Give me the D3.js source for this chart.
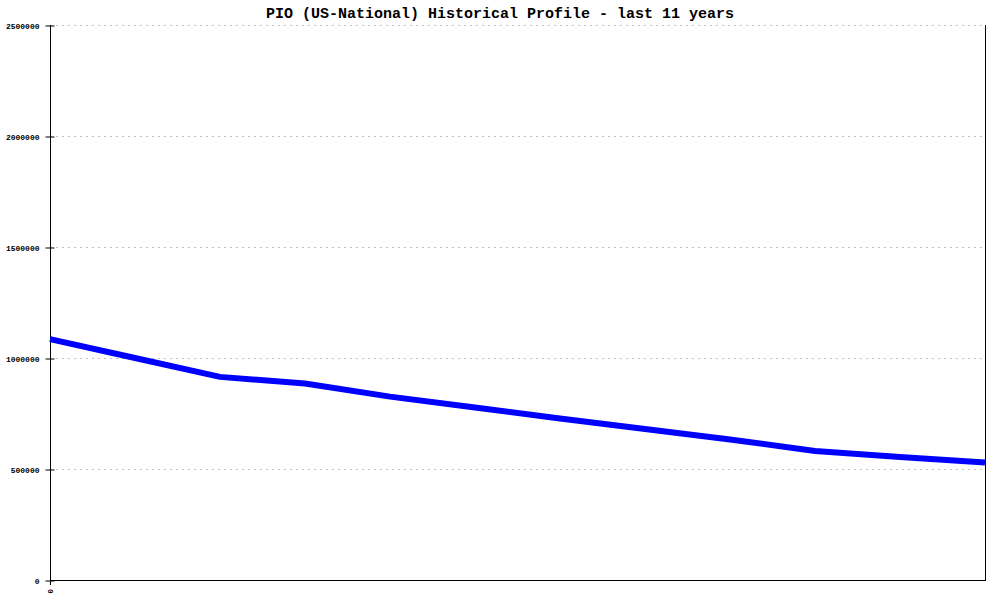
<!DOCTYPE html>
<html><head><meta charset="utf-8">
<script src="https://cdn.jsdelivr.net/npm/d3@7"></script>
<style>body{margin:0;background:#fff}</style>
</head><body>
<svg id="c" width="1000" height="600"></svg>
<script>
const title = "PIO (US-National) Historical Profile - last 11 years";
const years = [0,1,2,3,4,5,6,7,8,9,10,11];
const values = [1085000,1000000,915000,885000,826000,777000,727500,680000,633000,581000,554000,529000];
const yTicks = [0,500000,1000000,1500000,2000000,2500000];
const xTickLabels = ["0"];

const svg = d3.select("#c");
const L=50,R=985,T=25,B=580;
const x = d3.scaleLinear().domain([0,11]).range([L,R]);
const y = d3.scaleLinear().domain([0,2500000]).range([B,T]);
const mono = "'Liberation Mono','Courier New',monospace";

svg.append("text").attr("x",500).attr("y",18).attr("text-anchor","middle")
  .attr("font-family",mono).attr("font-weight","bold").attr("font-size",15).text(title);

// gridlines
svg.append("g").selectAll("line").data(yTicks.filter(d=>d>0)).join("line")
  .attr("x1",L).attr("x2",R).attr("y1",d=>y(d)+0.5).attr("y2",d=>y(d)+0.5)
  .attr("stroke","#c0c0c0").attr("stroke-dasharray","2,4");

// y axis
const ya = d3.axisLeft(y).tickValues(yTicks).tickSize(5).tickPadding(6).tickFormat(d3.format("d"));
const gy = svg.append("g").attr("transform",`translate(${L+0.5},0.5)`).call(ya);
gy.select(".domain").remove();
gy.selectAll(".tick line").attr("x1",-5).attr("x2",4).attr("stroke","#000");
gy.selectAll("text").attr("font-family",mono).attr("font-weight","bold").attr("font-size",8).attr("fill","#000");

// axes lines
svg.append("line").attr("x1",L+0.5).attr("x2",L+0.5).attr("y1",T).attr("y2",B).attr("stroke","#000");
svg.append("line").attr("x1",R+0.5).attr("x2",R+0.5).attr("y1",T).attr("y2",B).attr("stroke","#000");
svg.append("line").attr("x1",L).attr("x2",R+1).attr("y1",B+0.5).attr("y2",B+0.5).attr("stroke","#000");

// x tick
svg.append("g").selectAll("line").data(xTickLabels).join("line")
  .attr("x1",(d,i)=>x(i)+0.5).attr("x2",(d,i)=>x(i)+0.5).attr("y1",B).attr("y2",B+5).attr("stroke","#000");
svg.append("g").selectAll("text").data(xTickLabels).join("text")
  .attr("transform",(d,i)=>`translate(${x(i)+3},${B+9}) rotate(-90)`)
  .attr("text-anchor","end").attr("font-family",mono).attr("font-weight","bold").attr("font-size",8).text(d=>d);

// line
const line = d3.line().x((d,i)=>x(years[i])).y(d=>y(d));
svg.append("path").datum(values).attr("d",line).attr("fill","none")
  .attr("stroke","#0000ff").attr("stroke-width",6).attr("stroke-linejoin","round");
</script>
</body></html>
